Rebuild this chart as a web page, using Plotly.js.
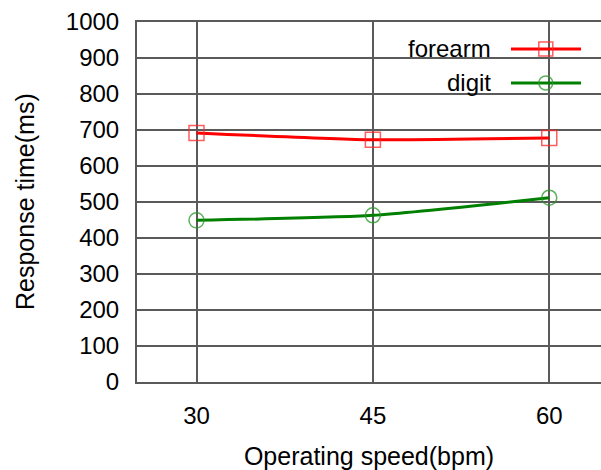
<!DOCTYPE html>
<html>
<head>
<meta charset="utf-8">
<script src="https://cdn.plot.ly/plotly-3.0.1.min.js"></script>
<style>html,body{margin:0;padding:0;background:#fff}#chart{width:601px;height:470px}</style>
</head>
<body>
<div id="chart"></div>
<script>
const speeds = [30, 45, 60];
const forearm = [692, 673, 678];
const digit = [449, 463, 512];
const seriesNames = ['forearm', 'digit'];
const yTicks = [0, 100, 200, 300, 400, 500, 600, 700, 800, 900, 1000];

const FONT = 'Liberation Sans, Arial, sans-serif';
const RED = '#ff0000', GREEN = '#008000';

const traces = [
  {x: speeds, y: forearm, name: seriesNames[0], mode: 'lines+markers', type: 'scatter',
   line: {color: RED, width: 3, shape: 'spline', smoothing: 0.6},
   marker: {symbol: 'square-open', size: 15, color: 'rgba(255,40,40,0.75)', line: {width: 1.5}}},
  {x: speeds, y: digit, name: seriesNames[1], mode: 'lines+markers', type: 'scatter',
   line: {color: GREEN, width: 3, shape: 'spline', smoothing: 0.6},
   marker: {symbol: 'circle-open', size: 15, color: 'rgba(40,150,40,0.75)', line: {width: 1.5}}}
];

// legend drawn manually (text on left of sample, as in reference)
const legY = [0.925, 0.8306];
const legColors = [RED, GREEN];
const shapes = [];
const annotations = [];
seriesNames.forEach((n, i) => {
  shapes.push({type: 'line', xref: 'paper', yref: 'paper', x0: 0.806, x1: 0.957, y0: legY[i], y1: legY[i],
    line: {color: legColors[i], width: 3}});
  shapes.push({type: i === 0 ? 'rect' : 'circle', xref: 'paper', yref: 'paper',
    xsizemode: 'pixel', ysizemode: 'pixel', xanchor: 0.881, yanchor: legY[i],
    x0: -7, x1: 7, y0: -7, y1: 7,
    line: {color: i === 0 ? 'rgba(255,40,40,0.75)' : 'rgba(40,150,40,0.75)', width: 1.5}});
  annotations.push({xref: 'paper', yref: 'paper', x: 0.767, y: legY[i], xanchor: 'right', yanchor: 'middle',
    text: n, showarrow: false, font: {family: FONT, size: 24, color: '#000'}});
});
// y-axis title as annotation for precise placement
annotations.push({xref: 'paper', yref: 'paper', x: (25 - 137) / 464, y: 0.5, xanchor: 'center', yanchor: 'middle',
  textangle: -90, text: 'Response time(ms)', showarrow: false, font: {family: FONT, size: 25, color: '#000'}});

const layout = {
  width: 601, height: 470,
  margin: {l: 137, r: 0, t: 22, b: 88},
  paper_bgcolor: '#fff', plot_bgcolor: '#fff',
  showlegend: false,
  font: {family: FONT, size: 24, color: '#000'},
  xaxis: {
    range: [24.94, 64.4], tickvals: speeds, ticktext: speeds.map(String),
    showgrid: true, gridcolor: '#5a5a5a', gridwidth: 2, zeroline: false,
    showline: true, linecolor: '#5a5a5a', linewidth: 2, mirror: true,
    ticks: '', ticklabelstandoff: 11,
    title: {text: 'Operating speed(bpm)', font: {family: FONT, size: 25}, standoff: 20}
  },
  yaxis: {
    range: [0, 1000], tickvals: yTicks,
    showgrid: true, gridcolor: '#5a5a5a', gridwidth: 2, zeroline: false,
    showline: true, linecolor: '#5a5a5a', linewidth: 2,
    ticks: '', ticklabelstandoff: 11
  },
  shapes: shapes,
  annotations: annotations
};

Plotly.newPlot('chart', traces, layout, {displayModeBar: false, staticPlot: true});
</script>
</body>
</html>
